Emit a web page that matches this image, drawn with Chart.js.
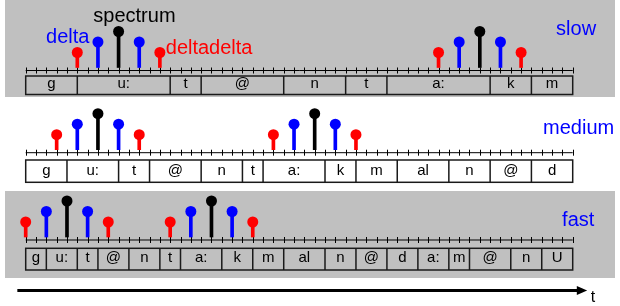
<!DOCTYPE html>
<html>
<head>
<meta charset="utf-8">
<script src="https://cdn.jsdelivr.net/npm/chart.js@4.4.0/dist/chart.umd.min.js"></script>
<style>
  body { margin: 0; background: #fff; }
  #wrap { position: relative; width: 620px; height: 306px; }
  .bg { position: absolute; left: 5px; width: 610px; background: #c0c0c0; }
  canvas { position: absolute; left: 0; }
</style>
</head>
<body>
<div id="wrap">
  <div class="bg" style="top:0;height:97px"></div>
  <div class="bg" style="top:191px;height:87px"></div>
  <canvas id="slow" width="620" height="97" style="top:0"></canvas>
  <canvas id="medium" width="620" height="93" style="top:97px"></canvas>
  <canvas id="fast" width="620" height="115" style="top:191px"></canvas>
</div>
<script>
// stem heights (same in every panel)
const spectrumHeight = 3.9;
const deltaHeight = 2.85;
const deltaDeltaHeight = 1.8;

// time positions in frames (one tick = one frame)
const slowSpectrum = [9, 44];
const slowDelta = [7, 11, 42, 46];
const slowDeltaDelta = [5, 13, 40, 48];
const slowPhones = ["g", "u:", "t", "@", "n", "t", "a:", "k", "m"];
const slowBounds = [0, 5, 14, 17, 25, 31, 35, 45, 49, 53];

const mediumSpectrum = [7, 28];
const mediumDelta = [5, 9, 26, 30];
const mediumDeltaDelta = [3, 11, 24, 32];
const mediumPhones = ["g", "u:", "t", "@", "n", "t", "a:", "k", "m", "al", "n", "@", "d"];
const mediumBounds = [0, 4, 9, 12, 17, 21, 23, 29, 32, 36, 41, 45, 49, 53];

const fastSpectrum = [4, 18];
const fastDelta = [2, 6, 16, 20];
const fastDeltaDelta = [0, 8, 14, 22];
const fastPhones = ["g", "u:", "t", "@", "n", "t", "a:", "k", "m", "al", "n", "@", "d", "a:", "m", "@", "n", "U"];
const fastBounds = [0, 2, 5, 7, 10, 13, 15, 19, 22, 25, 29, 32, 35, 38, 41, 43, 47, 50, 53];

const FONT = '"Liberation Sans", Arial, sans-serif';

const timeline = {
  id: "timeline",
  beforeDatasetsDraw(chart, args, opts) {
    const ctx = chart.ctx;
    const x = chart.scales.x;
    const y = chart.scales.y;
    const y0 = y.getPixelForValue(0);
    ctx.save();
    // axis with frame ticks
    ctx.strokeStyle = "#000";
    ctx.lineWidth = 1;
    ctx.beginPath();
    ctx.moveTo(x.getPixelForValue(0), y0);
    ctx.lineTo(x.getPixelForValue(53), y0);
    for (let i = 0; i <= 53; i++) {
      const px = Math.round(x.getPixelForValue(i)) + 0.5;
      ctx.moveTo(px, y0 - 3);
      ctx.lineTo(px, y0 + 3);
    }
    ctx.stroke();
    // phone boxes
    const top = y.getPixelForValue(opts.boxTop);
    const bottom = y.getPixelForValue(opts.boxBottom);
    const left = x.getPixelForValue(opts.bounds[0]);
    const right = x.getPixelForValue(opts.bounds[opts.bounds.length - 1]);
    ctx.strokeStyle = "#1a1a1a";
    ctx.lineWidth = 1.5;
    ctx.strokeRect(left, top, right - left, bottom - top);
    ctx.beginPath();
    for (let i = 1; i < opts.bounds.length - 1; i++) {
      const px = x.getPixelForValue(opts.bounds[i]);
      ctx.moveTo(px, top);
      ctx.lineTo(px, bottom);
    }
    ctx.stroke();
    ctx.fillStyle = "#000";
    ctx.font = "15px " + FONT;
    ctx.textAlign = "center";
    ctx.textBaseline = "alphabetic";
    opts.phones.forEach((p, i) => {
      const cx = x.getPixelForValue((opts.bounds[i] + opts.bounds[i + 1]) / 2);
      ctx.fillText(p, cx, y.getPixelForValue(opts.textY));
    });
    ctx.restore();
  },
  afterDraw(chart, args, opts) {
    const ctx = chart.ctx;
    const x = chart.scales.x;
    const y = chart.scales.y;
    ctx.save();
    ctx.textAlign = "left";
    ctx.textBaseline = "alphabetic";
    ctx.font = "20px " + FONT;
    (opts.notes || []).forEach((n) => {
      ctx.fillStyle = n.color;
      ctx.fillText(n.text, x.getPixelForValue(n.x), y.getPixelForValue(n.y));
    });
    if (opts.arrow) {
      const ay = y.getPixelForValue(-5.05);
      ctx.strokeStyle = "#000";
      ctx.fillStyle = "#000";
      ctx.lineWidth = 3;
      ctx.beginPath();
      ctx.moveTo(x.getPixelForValue(-0.81), ay);
      ctx.lineTo(x.getPixelForValue(53.5), ay);
      ctx.stroke();
      ctx.beginPath();
      ctx.moveTo(x.getPixelForValue(53.4), ay - 4.5);
      ctx.lineTo(x.getPixelForValue(54.4), ay);
      ctx.lineTo(x.getPixelForValue(53.4), ay + 4.5);
      ctx.closePath();
      ctx.fill();
      ctx.font = "16px " + FONT;
      ctx.fillText("t", x.getPixelForValue(54.75), y.getPixelForValue(-6.2));
    }
    ctx.restore();
  },
};

function stems(xs, h, color) {
  return [
    {
      type: "bar",
      data: xs.map((v) => ({ x: v, y: [0.3, h] })),
      backgroundColor: color,
      borderWidth: 0,
      barThickness: 3,
      grouped: false,
      clip: false,
    },
    {
      type: "scatter",
      data: xs.map((v) => ({ x: v, y: h })),
      backgroundColor: color,
      borderWidth: 0,
      pointRadius: 5.5,
      pointHoverRadius: 5.5,
      clip: false,
    },
  ];
}

function drawPanel(id, spectrum, delta, deltaDelta, phones, bounds, yMin, yMax, extra) {
  const ctx = document.getElementById(id).getContext("2d");
  new Chart(ctx, {
    type: "scatter",
    data: {
      datasets: [
        ...stems(deltaDelta, deltaDeltaHeight, "#ff0000"),
        ...stems(delta, deltaHeight, "#0000ff"),
        ...stems(spectrum, spectrumHeight, "#000000"),
      ],
    },
    options: {
      responsive: false,
      animation: false,
      events: [],
      layout: { autoPadding: false, padding: { left: 25.7, right: 47.3, top: 0, bottom: 0 } },
      scales: {
        x: { type: "linear", min: 0, max: 53, offset: false, display: false },
        y: { type: "linear", min: yMin, max: yMax, display: false },
      },
      plugins: {
        legend: { display: false },
        tooltip: { enabled: false },
        timeline: Object.assign({ phones: phones, bounds: bounds }, extra),
      },
    },
    plugins: [timeline],
  });
}

drawPanel("slow", slowSpectrum, slowDelta, slowDeltaDelta, slowPhones, slowBounds, -2.65, 7.05, {
  boxTop: -0.55, boxBottom: -2.4, textY: -1.7,
  notes: [
    { text: "delta", x: 1.97, y: 2.78, color: "#0000ff" },
    { text: "spectrum", x: 6.55, y: 4.82, color: "#000000" },
    { text: "deltadelta", x: 13.57, y: 1.65, color: "#ff0000" },
    { text: "slow", x: 51.39, y: 3.55, color: "#0000ff" },
  ],
});
drawPanel("medium", mediumSpectrum, mediumDelta, mediumDeltaDelta, mediumPhones, mediumBounds, -3.73, 5.57, {
  boxTop: -0.73, boxBottom: -2.96, textY: -2.23,
  notes: [{ text: "medium", x: 50.13, y: 1.84, color: "#0000ff" }],
});
drawPanel("fast", fastSpectrum, fastDelta, fastDeltaDelta, fastPhones, fastBounds, -6.6, 4.9, {
  boxTop: -0.83, boxBottom: -3.0, textY: -2.17,
  notes: [{ text: "fast", x: 51.97, y: 1.43, color: "#0000ff" }],
  arrow: true,
});
</script>
</body>
</html>
